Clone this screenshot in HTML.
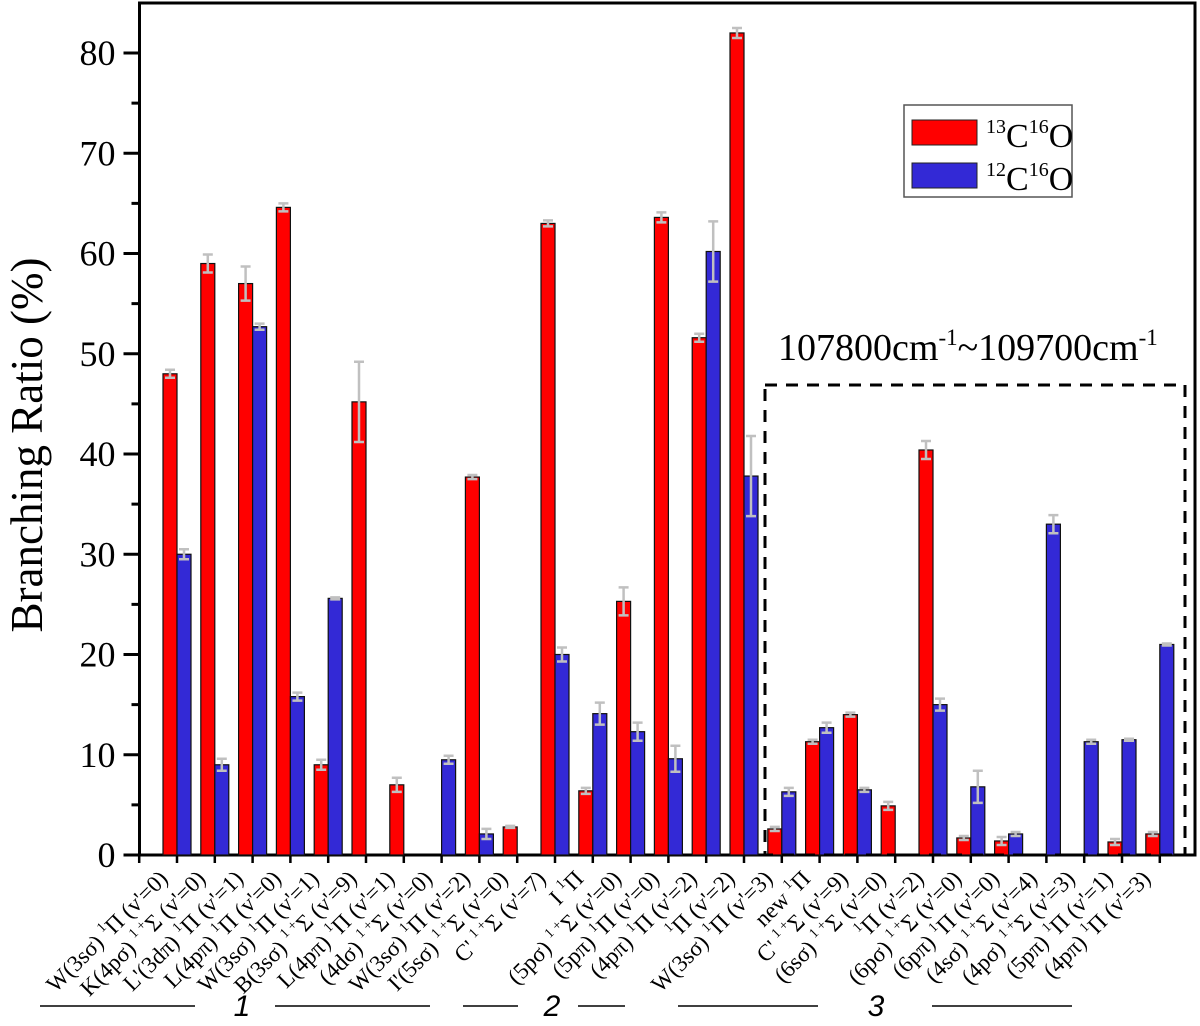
<!DOCTYPE html>
<html><head><meta charset="utf-8"><style>
html,body{margin:0;padding:0;background:#fff;}
svg{display:block;font-family:"Liberation Serif","DejaVu Serif",serif;}
</style></head><body>
<svg id="chart" width="1200" height="1026" viewBox="0 0 1200 1026" xmlns="http://www.w3.org/2000/svg">
<g id="axes"></g>
<g id="bars"></g>
<g id="xlabels"></g>
<text transform="translate(42,445) rotate(-90)" text-anchor="middle" font-size="45">Branching Ratio (%)</text>
<g>
<rect x="765" y="385" width="420" height="470" fill="none" stroke="#000" stroke-width="3" stroke-dasharray="12,9"/>
<text x="778" y="360" font-size="38">107800cm<tspan dy="-15" font-size="23">-1</tspan><tspan dy="15">~109700cm</tspan><tspan dy="-15" font-size="23">-1</tspan></text>
</g>
<g>
<rect x="904" y="105" width="168" height="92" fill="#fff" stroke="#555" stroke-width="1.5"/>
<rect x="912" y="120" width="65" height="25" fill="#ff0000" stroke="#222"/>
<text x="986" y="147" font-size="34"><tspan font-size="20" dy="-14">13</tspan><tspan dy="14">C</tspan><tspan font-size="20" dy="-14">16</tspan><tspan dy="14">O</tspan></text>
<rect x="912" y="163" width="65" height="25" fill="#3329d6" stroke="#222"/>
<text x="986" y="190" font-size="34"><tspan font-size="20" dy="-14">12</tspan><tspan dy="14">C</tspan><tspan font-size="20" dy="-14">16</tspan><tspan dy="14">O</tspan></text>
</g>
<g stroke="#000" stroke-width="1.5">
<line x1="40" y1="1006" x2="195" y2="1006"/><line x1="275" y1="1006" x2="430" y2="1006"/>
<line x1="463" y1="1006" x2="518" y2="1006"/><line x1="578" y1="1006" x2="625" y2="1006"/>
<line x1="678" y1="1006" x2="818" y2="1006"/><line x1="932" y1="1006" x2="1072" y2="1006"/>
</g>
<text x="242" y="1016" font-size="30" font-style="italic" font-family="Liberation Sans,sans-serif" text-anchor="middle">1</text>
<text x="552" y="1016" font-size="30" font-style="italic" font-family="Liberation Sans,sans-serif" text-anchor="middle">2</text>
<text x="876" y="1016" font-size="30" font-style="italic" font-family="Liberation Sans,sans-serif" text-anchor="middle">3</text>
</svg>
<script>
const categories = [
 ["W(3sσ)","Π","0"],["K(4pσ)","Σ","0"],["L'(3dπ)","Π","1"],["L(4pπ)","Π","0"],["W(3sσ)","Π","1"],
 ["B(3sσ)","Σ","9"],["L(4pπ)","Π","1"],["(4dσ)","Σ","0"],["W(3sσ)","Π","2"],["I'(5sσ)","Σ","0"],
 ["C'","Σ","7"],["I","Π",""],["(5pσ)","Σ","0"],["(5pπ)","Π","0"],["(4pπ)","Π","2"],
 ["","Π","2"],["W(3sσ)","Π","3"],["new","Π",""],["C'","Σ","9"],["(6sσ)","Σ","0"],
 ["","Π","2"],["(6pσ)","Σ","0"],["(6pπ)","Π","0"],["(4sσ)","Σ","4"],["(4pσ)","Σ","3"],
 ["(5pπ)","Π","1"],["(4pπ)","Π","3"]];
const values13 = [48,59,57,64.6,9,45.2,7,0,37.7,2.8,63,6.4,25.3,63.6,51.6,82,2.6,11.3,14,4.9,40.4,1.7,1.4,0,0,1.3,2.1];
const values12 = [30,9,52.7,15.8,25.6,0,0,9.5,2.1,0,20,14.1,12.3,9.6,60.2,37.8,6.3,12.7,6.5,0,15,6.8,2.1,33,11.3,11.5,21];
const err13 = [0.4,0.9,1.7,0.4,0.5,4,0.7,0,0.2,0.1,0.3,0.3,1.4,0.5,0.4,0.5,0.2,0.2,0.2,0.4,0.9,0.2,0.4,0,0,0.3,0.2];
const err12 = [0.5,0.6,0.3,0.4,0.1,0,0,0.4,0.5,0,0.7,1.1,0.9,1.3,3,4,0.4,0.5,0.2,0,0.6,1.6,0.2,0.9,0.2,0.1,0.1];
const yTicks = [0,10,20,30,40,50,60,70,80];

const NS="http://www.w3.org/2000/svg";
const X0=139.5, X1=1195, Y0=855, YT=3;
const step=37.8, first=177, bw=14;
function xC(i){return first+step*i;}
function yV(v){return Y0-(Y0-53)*v/80;}
function mk(tag,attrs,parent){const e=document.createElementNS(NS,tag);for(const k in attrs)e.setAttribute(k,attrs[k]);parent.appendChild(e);return e;}

const axes=document.getElementById('axes');
const frame=mk('path',{d:`M${X0},${Y0} L${X0},${YT} L${X1},${YT} L${X1},${Y0} Z`,fill:'none',stroke:'#000','stroke-width':3},axes);


yTicks.forEach(t=>{
  const y=yV(t);
  const tk=mk('line',{x1:X0-16,x2:X0,y1:y,y2:y,stroke:'#000','stroke-width':3},axes);
  
  
  const lb=mk('text',{x:X0-24,y:y+12,'text-anchor':'end','font-size':36},axes);
  lb.textContent=t;
  
  
  if(t<80){const ym=yV(t+5);
    const mt=mk('line',{x1:X0-8,x2:X0,y1:ym,y2:ym,stroke:'#000','stroke-width':3},axes);
    
    }
});
for(let i=-1;i<categories.length;i++){
  const tk=mk('line',{x1:xC(i),x2:xC(i),y1:Y0,y2:Y0+8,stroke:'#000','stroke-width':2.5},axes);
  
  
}

const bars=document.getElementById('bars');
function bar(i,v,e,col,left,name){
  if(v<=0) return;
  const x=left?xC(i)-bw:xC(i);
  const r=mk('rect',{x:x,y:yV(v),width:bw,height:Y0-yV(v),fill:col,stroke:'#111','stroke-width':1.2},bars);
  
  
  if(e>0){
    const cx=x+bw/2;
    const eb=mk('path',{d:`M${cx},${yV(v+e)} L${cx},${yV(v-e)} M${cx-5},${yV(v+e)} L${cx+5},${yV(v+e)} M${cx-5},${yV(v-e)} L${cx+5},${yV(v-e)}`,stroke:'#c0c0c0','stroke-width':2.5,fill:'none'},bars);
    
    
  }
}
categories.forEach((c,i)=>{
  bar(i,values13[i],err13[i],'#ff0000',true,'bar-13c16o');
  bar(i,values12[i],err12[i],'#3329d6',false,'bar-12c16o');
});

const xl=document.getElementById('xlabels');
categories.forEach((c,i)=>{
  const ax=xC(i)-8, ay=880;
  const t=mk('text',{transform:`translate(${ax},${ay}) rotate(-45)`,'text-anchor':'end','font-size':23},xl);
  
  
  let s=c[0];
  const a=document.createElementNS(NS,'tspan');a.textContent=s+(s?" ":"");t.appendChild(a);
  const sup=document.createElementNS(NS,'tspan');sup.setAttribute('dy','-10');sup.setAttribute('font-size','14');sup.textContent=c[1]==="Σ"?"1 +":"1";t.appendChild(sup);
  const g=document.createElementNS(NS,'tspan');g.setAttribute('dy','10');g.textContent=c[1]+(c[2]!==""?" (v'="+c[2]+")":"");t.appendChild(g);
});
</script>
</body></html>
